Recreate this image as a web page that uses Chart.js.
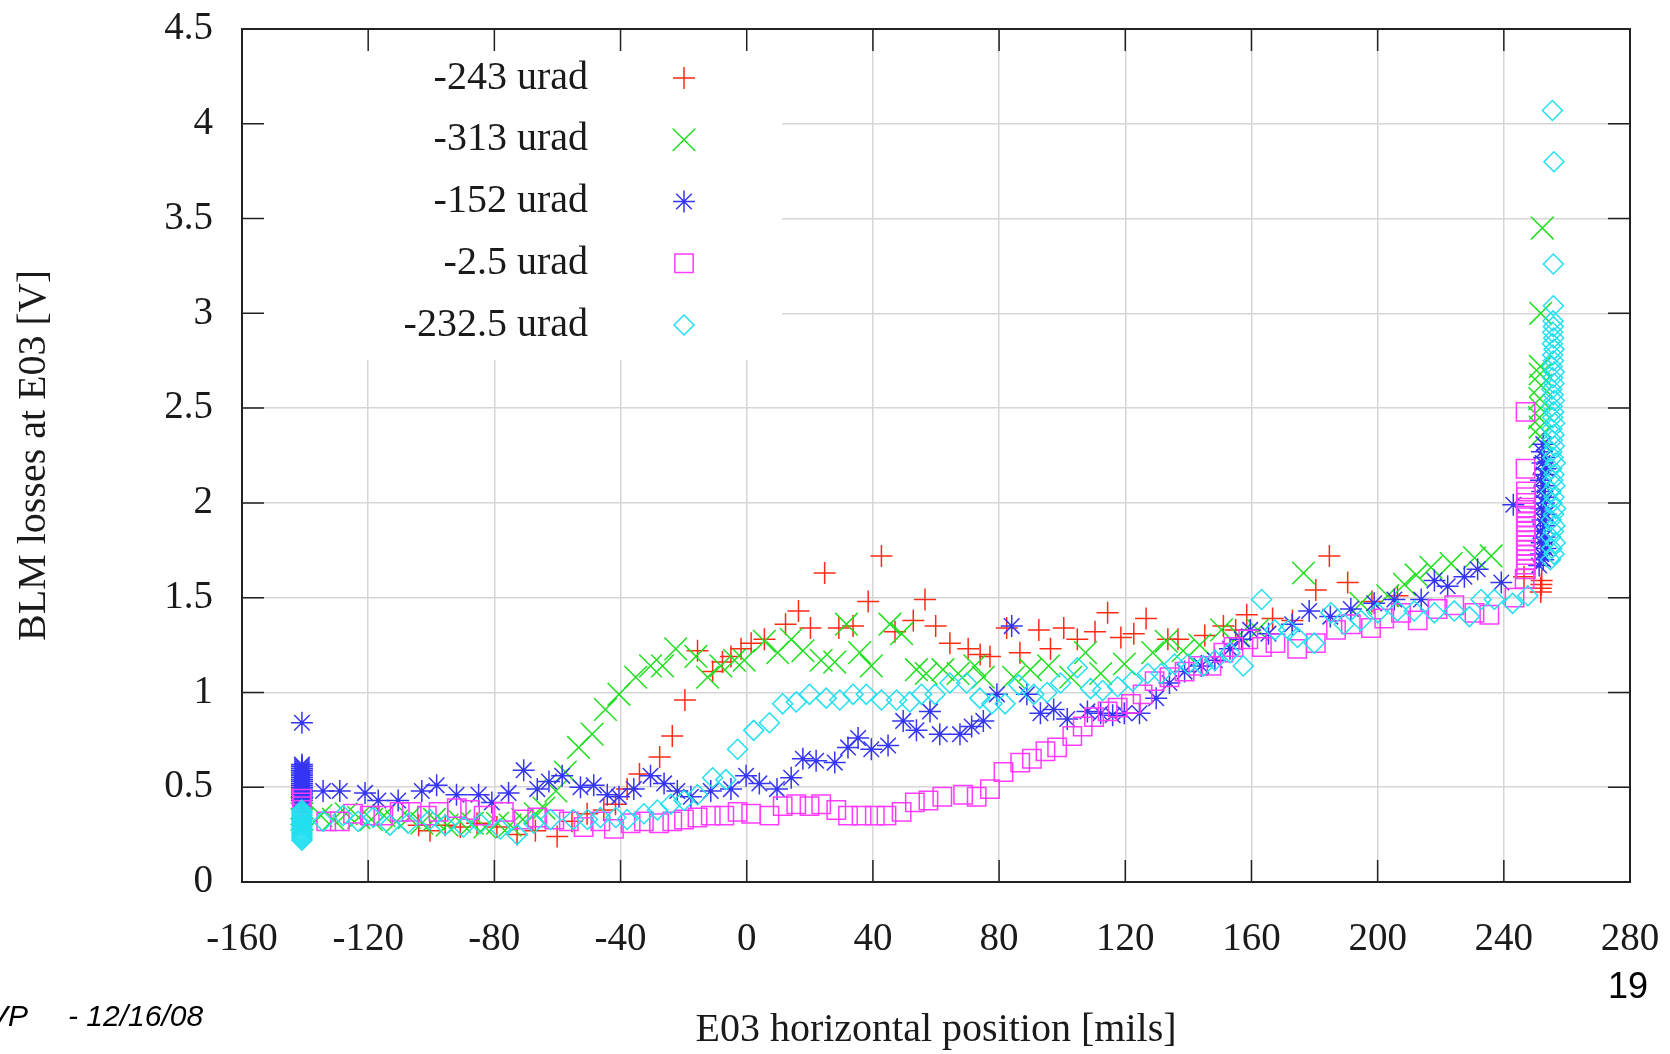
<!DOCTYPE html>
<html>
<head>
<meta charset="utf-8">
<title>BLM losses at E03</title>
<script src="https://cdn.jsdelivr.net/npm/chart.js"></script>
<style>
  html, body { margin: 0; padding: 0; background: #fff; }
  #wrap { width: 1670px; height: 1054px; }
</style>
</head>
<body>
<div id="wrap"><canvas id="blmChart" width="1670" height="1054"></canvas></div>
<script>
// axis ticks
const xTicks = [-160, -120, -80, -40, 0, 40, 80, 120, 160, 200, 240, 280];
const yTicks = [0, 0.5, 1, 1.5, 2, 2.5, 3, 3.5, 4, 4.5];

const seriesLabels = ['-243 urad', '-313 urad', '-152 urad', '-2.5 urad', '-232.5 urad'];

// [position (mils), loss (V)]
const red = [[-104,0.30],[-100.4,0.27],[-95.6,0.30],[-90.8,0.29],[-85.5,0.31],[-79.2,0.29],[-72.8,0.25],[-67,0.27],[-60.1,0.24],[-55.4,0.32],
  [-50.6,0.36],[-45.3,0.38],[-41.6,0.41],[-37.9,0.49],[-34,0.57],[-27.6,0.66],[-23.6,0.77],[-19.6,0.96],[-15.6,1.22],[-10.8,1.11],
  [-7.7,1.16],[-5,1.19],[-1.8,1.23],[1.4,1.26],[5.6,1.28],[12.3,1.36],[16.4,1.43],[20.2,1.34],[24.7,1.63],[29.2,1.34],
  [33.7,1.35],[38.5,1.48],[42.7,1.72],[47,1.32],[52.8,1.38],[56.5,1.49],[59.9,1.35],[64.4,1.26],[70.2,1.23],[74,1.20],
  [77.1,1.19],[82.4,1.34],[86.6,1.21],[92.6,1.33],[96.3,1.23],[100.5,1.34],[104.8,1.28],[110.4,1.32],[114.4,1.42],[118.6,1.29],
  [122.7,1.31],[126.6,1.39],[133.5,1.28],[136.7,1.28],[145.2,1.30],[151.1,1.35],[155,1.33],[158.5,1.41],[166.7,1.39],[173,1.38],
  [180.4,1.54],[184.7,1.72],[190.5,1.58],[198.2,1.48],[206.3,1.51],[246.4,1.61],[251.7,1.53],[251.7,1.55],[251.9,1.57],[252,1.59]];

const green = [[-141,0.33],[-141,0.36],[-141,0.39],[-135,0.35],[-131,0.33],[-127,0.36],[-123,0.34],[-119,0.33],[-115,0.35],[-111,0.32],
  [-107,0.34],[-103,0.31],[-99,0.33],[-95,0.30],[-91,0.32],[-87,0.31],[-83,0.29],[-79,0.31],[-75,0.30],[-71,0.33],
  [-67,0.36],[-64.3,0.39],[-60.5,0.48],[-57.5,0.58],[-53.3,0.71],[-49,0.78],[-44.8,0.91],[-40.5,0.99],[-35.2,1.08],[-30.5,1.14],
  [-26.7,1.14],[-22.5,1.23],[-16.1,1.19],[-12.4,1.08],[-8.2,1.14],[-3.9,1.17],[-0.8,1.17],[5.6,1.27],[9.8,1.21],[14.1,1.28],
  [17.8,1.22],[23.6,1.17],[27.9,1.16],[31.6,1.36],[35.8,1.21],[39.5,1.14],[45.4,1.36],[49.1,1.31],[53.8,1.12],[56.9,1.10],
  [62.2,1.12],[67,1.10],[72.3,1.14],[75,1.08],[84.6,1.08],[89.9,1.12],[95.7,1.14],[102.7,1.08],[107.4,1.21],[112.2,1.10],
  [119.7,1.15],[128.7,1.21],[133,1.27],[138.3,1.22],[143.6,1.25],[150.5,1.33],[156,1.30],[162,1.33],[176.5,1.63],[194.7,1.47],
  [203.2,1.51],[208.5,1.57],[212.2,1.62],[216.9,1.66],[223.3,1.68],[230.7,1.71],[236,1.72],[251.5,2.35],[251.5,2.40],[251.3,2.45],
  [251.6,2.50],[251.4,2.55],[251.8,2.62],[251.5,2.68],[251.6,2.72],[251.7,3.00],[252.2,3.45]];

const blue = [[-141,0.43],[-141,0.44],[-141,0.45],[-141,0.46],[-141,0.47],[-141,0.48],[-141,0.49],[-141,0.50],[-141,0.51],[-141,0.52],
  [-141,0.53],[-141,0.54],[-141,0.55],[-141,0.56],[-141,0.57],[-141,0.58],[-141,0.59],[-141,0.60],[-141,0.61],[-141,0.62],
  [-141,0.84],[-134.3,0.48],[-129,0.48],[-121,0.47],[-116.8,0.43],[-110.5,0.43],[-103,0.48],[-98.3,0.51],[-92,0.46],[-85,0.46],
  [-80.8,0.42],[-75.5,0.47],[-70.7,0.59],[-66.4,0.49],[-62.7,0.53],[-58.5,0.56],[-52.7,0.50],[-48.5,0.51],[-44.2,0.46],[-40.5,0.45],
  [-35.8,0.49],[-30.5,0.56],[-26.2,0.52],[-22,0.48],[-17.7,0.45],[-11.4,0.48],[-5,0.49],[-0.2,0.56],[4,0.52],[9.6,0.49],
  [14.1,0.55],[17.8,0.65],[22,0.64],[27.9,0.63],[32.1,0.71],[35.3,0.76],[39.5,0.70],[44.8,0.72],[49.6,0.85],[53.8,0.80],
  [58.1,0.90],[61.2,0.78],[67.6,0.78],[71.3,0.82],[75,0.85],[79.3,0.99],[84,1.35],[88.8,0.99],[93.1,0.89],[97.3,0.91],
  [101.6,0.86],[108,0.90],[112.2,0.89],[116,0.88],[119.7,0.89],[124.5,0.89],[129.8,0.97],[134,1.05],[138.8,1.11],[144.1,1.14],
  [148.4,1.17],[153.2,1.23],[156.9,1.28],[159.6,1.33],[165.4,1.31],[172.9,1.36],[178.3,1.43],[185,1.40],[191.5,1.44],[198.9,1.47],
  [205.3,1.49],[213.8,1.49],[218,1.59],[222.2,1.56],[227.5,1.61],[231.7,1.65],[239.2,1.58],[243,1.99],
  [251.2,1.67],[252.5,1.70],[251.8,1.73],[253.2,1.76],[252.0,1.79],[252.9,1.82],[251.6,1.85],[253.0,1.88],[252.3,1.91],[253.4,1.94],
  [251.9,1.97],[252.7,2.00],[253.1,2.03],[252.2,2.06],[252.9,2.09],[251.8,2.12],[252.6,2.15],[253.2,2.18],[252.3,2.21],[252.8,2.24],
  [252.1,2.27],[252.5,2.31]];

const magenta = [[-141,0.30],[-141,0.32],[-141,0.34],[-141,0.36],[-141,0.38],[-141,0.40],[-141,0.42],[-141,0.44],
  [-133.3,0.32],[-129,0.32],[-124.8,0.36],[-119.5,0.35],
  [-115.2,0.35],[-110,0.37],[-106.2,0.37],[-101.4,0.35],[-97.7,0.37],[-91.9,0.39],[-87.7,0.38],[-83.4,0.35],[-77,0.37],[-70.7,0.33],
  [-66.4,0.34],[-61,0.33],[-56.4,0.32],[-51.7,0.29],[-46.4,0.32],[-42.1,0.28],[-36.8,0.31],[-32.6,0.32],[-27.8,0.31],[-23.6,0.32],
  [-19.9,0.33],[-15.6,0.34],[-11.4,0.35],[-7.1,0.35],[-2.9,0.37],[1.4,0.36],[7.2,0.35],[11.4,0.40],[15.7,0.41],[19.9,0.40],
  [23.6,0.41],[28.4,0.38],[32.1,0.35],[36.4,0.35],[40.6,0.35],[44.3,0.35],[49.1,0.37],[53.3,0.42],[57.6,0.43],[62,0.45],
  [68.6,0.46],[72.9,0.45],[77.1,0.49],[81.4,0.58],[86.7,0.63],[90.4,0.65],[94.7,0.69],[98.4,0.71],[103.2,0.77],[106.5,0.82],
  [110.1,0.87],[114.4,0.90],[117.6,0.92],[121.8,0.94],[125.5,0.99],[129.3,1.06],[134,1.08],[138.8,1.11],[143.1,1.14],[147.3,1.14],
  [151.1,1.21],[154.3,1.24],[159,1.28],[163.3,1.24],[167.6,1.26],[174.5,1.23],[180.4,1.26],[186.8,1.33],[191.5,1.36],[197.9,1.34],
  [202.1,1.39],[207.4,1.42],[212.7,1.38],[219,1.44],[224.3,1.46],[230.7,1.42],[235.4,1.41],[243.4,1.50],[246.6,1.60],
  [247,1.65],[247,1.675],[247,1.70],[247,1.725],[247,1.75],[247,1.775],[247,1.80],[247,1.825],[247,1.85],[247,1.875],
  [247,1.90],[247,1.925],[247,1.95],[247,1.975],[247,2.00],[247,2.03],[247,2.06],[246.9,2.18],[246.9,2.48]];

const cyan = [[-141,0.22],[-141,0.23],[-141,0.24],[-141,0.25],[-141,0.26],[-141,0.27],[-141,0.28],[-141,0.29],[-141,0.30],[-141,0.31],
  [-141,0.32],[-141,0.33],[-141,0.34],[-141,0.35],[-141,0.36],[-141,0.37],[-141,0.38],[-134.3,0.32],[-128,0.35],
  [-123.2,0.32],[-118.4,0.34],[-113.1,0.30],[-107.3,0.31],[-100.4,0.33],[-95.6,0.30],[-89.8,0.29],[-84.5,0.31],[-78.1,0.28],[-72.8,0.25],
  [-67.5,0.31],[-62.2,0.33],[-55,0.33],[-50.5,0.33],[-46.4,0.34],[-41.5,0.34],[-37.9,0.33],[-32.6,0.36],[-28.3,0.38],[-24.1,0.41],
  [-19.9,0.43],[-15.6,0.46],[-10.8,0.55],[-6.6,0.54],[-2.9,0.70],[2.2,0.80],[7.2,0.84],[11.4,0.94],[15.7,0.95],[19.9,0.99],
  [25.2,0.97],[29.5,0.96],[33.7,0.99],[37.9,0.99],[42.7,0.96],[47.5,0.96],[51.7,0.95],[55.4,0.99],[59.7,0.99],[64.4,1.05],
  [69.7,1.05],[73.9,0.97],[77.7,0.94],[81.9,0.94],[86.2,1.04],[91,0.99],[95.2,1.00],[99.5,1.05],[104.8,1.13],[109,1.02],
  [112.8,1.01],[117.6,1.03],[122.3,1.06],[127.1,1.10],[131.4,1.10],[135.6,1.15],[139.9,1.15],[144.7,1.14],[148.4,1.17],[153.2,1.21],
  [157.4,1.14],[163.2,1.49],[167.4,1.33],[171.8,1.33],[174.6,1.29],[179.9,1.26],[185.2,1.42],[189.4,1.36],[194.7,1.38],[200,1.42],
  [206.3,1.43],[211.6,1.43],[218,1.42],[224.3,1.43],[229.1,1.40],[232.8,1.49],[237,1.49],[242.8,1.47],[247.6,1.51],
  [254.8,1.70],[255.9,1.73],[255.2,1.76],[256.3,1.79],[254.9,1.82],[255.7,1.85],[256.2,1.88],[255.0,1.91],[255.8,1.94],[256.4,1.97],
  [255.3,2.00],[255.9,2.03],[254.9,2.06],[256.2,2.09],[255.5,2.12],[255.9,2.15],[255.1,2.18],[256.3,2.21],[255.6,2.24],[255.2,2.27],
  [256.0,2.30],[255.4,2.33],[255.9,2.36],[255.2,2.39],[256.1,2.42],[255.5,2.45],[255.8,2.48],[255.3,2.51],[256.0,2.54],[255.6,2.57],
  [255.2,2.60],[255.9,2.63],[255.5,2.66],[256.0,2.69],[255.3,2.72],[255.7,2.75],[255.5,2.78],[255.9,2.81],[255.4,2.84],[255.8,2.87],
  [255.5,2.90],[255.7,2.93],[255.6,2.96],[255.7,3.04],[255.7,3.26],[255.9,3.80],[255.4,4.07]];

const toPoints = arr => arr.map(p => ({ x: p[0], y: p[1] }));

function makeSet(i, points, color, style, radius, order) {
    return {
        label: seriesLabels[i],
        data: toPoints(points),
        showLine: false,
        pointStyle: style,
        pointRadius: radius,
        pointHoverRadius: radius,
        pointBorderWidth: 1.5,
        borderColor: color,
        pointBorderColor: color,
        pointBackgroundColor: 'rgba(0,0,0,0)',
        backgroundColor: 'rgba(0,0,0,0)',
        order: order
    };
}

// gnuplot-style frame: white key box, inward ticks on four sides, footer texts
const framePlugin = {
    id: 'frame',
    beforeDatasetsDraw(chart) {
        const { ctx, chartArea: a } = chart;
        ctx.save();
        ctx.fillStyle = '#fff';
        ctx.fillRect(a.left + 1, a.top + 1, 539, 330);
        ctx.restore();
    },
    afterDatasetsDraw(chart) {
        const { ctx, chartArea: a, scales } = chart;
        ctx.save();

        // key
        ctx.font = '40px "Liberation Serif"';
        ctx.textAlign = 'right';
        ctx.textBaseline = 'middle';
        chart.data.datasets.forEach((ds, i) => {
            const y = a.top + 49 + i * 61.75;
            ctx.fillStyle = '#1a1a1a';
            ctx.fillText(ds.label, a.left + 346, y);
            ctx.strokeStyle = ds.pointBorderColor;
            ctx.fillStyle = 'rgba(0,0,0,0)';
            ctx.lineWidth = ds.pointBorderWidth;
            Chart.helpers.drawPoint(ctx, {
                pointStyle: ds.pointStyle, radius: ds.pointRadius,
                borderWidth: ds.pointBorderWidth, rotation: 0
            }, a.left + 442, y);
        });

        // ticks
        ctx.strokeStyle = '#222';
        ctx.lineWidth = 1.5;
        ctx.beginPath();
        xTicks.forEach(v => {
            const x = scales.x.getPixelForValue(v);
            ctx.moveTo(x, a.bottom); ctx.lineTo(x, a.bottom - 22);
            ctx.moveTo(x, a.top); ctx.lineTo(x, a.top + 22);
        });
        yTicks.forEach(v => {
            const y = scales.y.getPixelForValue(v);
            ctx.moveTo(a.left, y); ctx.lineTo(a.left + 22, y);
            ctx.moveTo(a.right, y); ctx.lineTo(a.right - 22, y);
        });
        ctx.stroke();
        ctx.lineWidth = 2;
        ctx.strokeRect(a.left, a.top, a.right - a.left, a.bottom - a.top);
        ctx.restore();
    },
    afterDraw(chart) {
        const ctx = chart.ctx;
        ctx.save();
        ctx.fillStyle = '#000';
        ctx.textBaseline = 'middle';
        ctx.font = 'italic 30px "Liberation Sans"';
        ctx.textAlign = 'right';
        ctx.fillText('VP', 28, 1018);
        ctx.textAlign = 'left';
        ctx.fillText('- 12/16/08', 68, 1018);
        ctx.font = '36px "Liberation Sans"';
        ctx.textAlign = 'right';
        ctx.fillText('19', 1648, 988);
        ctx.restore();
    }
};

const serif = { family: '"Liberation Serif", "Times New Roman", serif' };

const config = {
    type: 'scatter',
    data: {
        datasets: [
            makeSet(0, red, '#ff2a14', 'cross', 11, 4),
            makeSet(1, green, '#1ee01e', 'crossRot', 16, 3),
            makeSet(2, blue, '#3535f5', 'star', 11, 2),
            makeSet(3, magenta, '#ff3cff', 'rect', 13, 1),
            makeSet(4, cyan, '#22e0f0', 'rectRot', 10, 0)
        ]
    },
    options: {
        responsive: false,
        animation: false,
        layout: { padding: { left: 0, top: 29, right: 40, bottom: 0 } },
        plugins: {
            legend: { display: false },
            tooltip: { enabled: false }
        },
        scales: {
            x: {
                type: 'linear',
                min: -160,
                max: 280,
                afterBuildTicks: s => { s.ticks = xTicks.map(v => ({ value: v })); },
                afterFit: s => { s.height = 172; s.paddingLeft = 0; s.paddingRight = 0; },
                grid: { color: '#d6d6d6', lineWidth: 1.5, drawTicks: false },
                border: { display: false },
                ticks: {
                    autoSkip: false, maxRotation: 0, padding: 34, color: '#1a1a1a',
                    font: { ...serif, size: 39 },
                    callback: v => String(v)
                },
                title: {
                    display: true, text: 'E03 horizontal position [mils]', color: '#1a1a1a',
                    font: { ...serif, size: 40 }, padding: { top: 0, bottom: 0 }
                }
            },
            y: {
                type: 'linear',
                min: 0,
                max: 4.5,
                afterBuildTicks: s => { s.ticks = yTicks.map(v => ({ value: v })); },
                afterFit: s => { s.width = 242; s.paddingTop = 0; s.paddingBottom = 0; },
                grid: { color: '#d6d6d6', lineWidth: 1.5, drawTicks: false },
                border: { display: false },
                ticks: {
                    padding: 29, color: '#1a1a1a',
                    font: { ...serif, size: 39 },
                    callback: v => String(v)
                },
                title: {
                    display: true, text: 'BLM losses at E03 [V]', color: '#1a1a1a',
                    font: { ...serif, size: 40 }, padding: { top: 10, bottom: 0 }
                }
            }
        }
    },
    plugins: [framePlugin]
};

new Chart(document.getElementById('blmChart'), config);
</script>
</body>
</html>
